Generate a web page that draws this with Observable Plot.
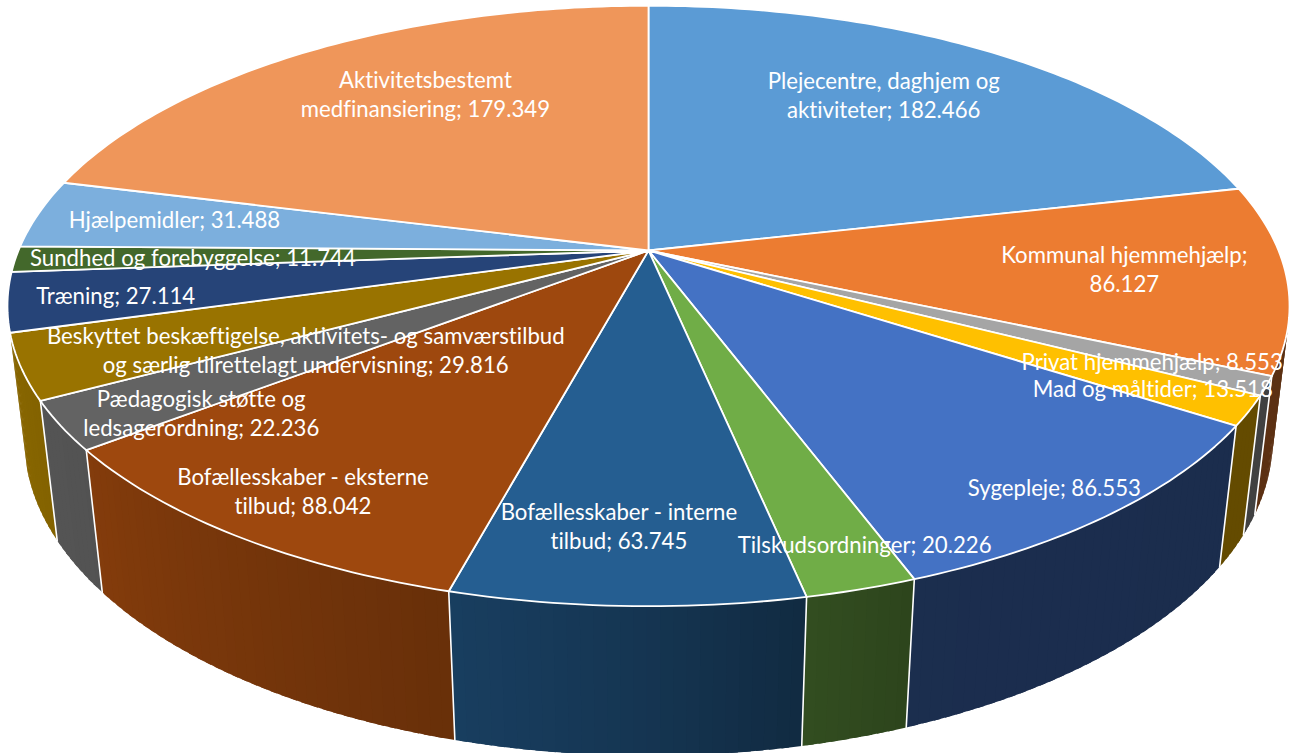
<!DOCTYPE html>
<html>
<head>
<meta charset="utf-8">
<script src="https://cdn.jsdelivr.net/npm/d3@7"></script>
<script src="https://cdn.jsdelivr.net/npm/@observablehq/plot@0.6"></script>
<style>
html,body{margin:0;padding:0;background:#fff;overflow:hidden}
svg{display:block}
svg text{font-variant-ligatures:none}
</style>
</head>
<body>
<div id="chart"></div>
<script>
const categories = ["Plejecentre, daghjem og aktiviteter","Kommunal hjemmehjælp","Privat hjemmehjælp","Mad og måltider","Sygepleje","Tilskudsordninger","Bofællesskaber - interne tilbud","Bofællesskaber - eksterne tilbud","Pædagogisk støtte og ledsagerordning","Beskyttet beskæftigelse, aktivitets- og samværstilbud og særlig tilrettelagt undervisning","Træning","Sundhed og forebyggelse","Hjælpemidler","Aktivitetsbestemt medfinansiering"];
const values = [182.466,86.127,8.553,13.518,86.553,20.226,63.745,88.042,22.236,29.816,27.114,11.744,31.488,179.349];
const labels = [
  "Plejecentre, daghjem og\naktiviteter; 182.466",
  "Kommunal hjemmehjælp;\n86.127",
  "Privat hjemmehjælp; 8.553",
  "Mad og måltider; 13.518",
  "Sygepleje; 86.553",
  "Tilskudsordninger; 20.226",
  "Bofællesskaber - interne\ntilbud; 63.745",
  "Bofællesskaber - eksterne\ntilbud; 88.042",
  "Pædagogisk støtte og\nledsagerordning; 22.236",
  "Beskyttet beskæftigelse, aktivitets- og samværstilbud\nog særlig tilrettelagt undervisning; 29.816",
  "Træning; 27.114",
  "Sundhed og forebyggelse; 11.744",
  "Hjælpemidler; 31.488",
  "Aktivitetsbestemt\nmedfinansiering; 179.349"
];
const colors = ["#5B9BD5","#EC7C31","#A5A5A5","#FFC000","#4472C4","#70AD47","#255E91","#9E480E","#636363","#997300","#264478","#43682B","#7CAFDD","#EF965A"];
// label placement, polar: fraction of the radius and turn (degrees) from the slice's middle
const labelRadius = [.72,.749,.829,.857,.906,.9036,.813,.865,.822,.607,.836,.72,.774,.711];
const labelTurn = [-3.5,-.2,.4,.8,.6,-2.5,1.2,-.4,-5.61,-10.7,-.7,-.5,.3,4.4];

// camera model of the tilted disc
const RX = 630, RY = 290, TILT = 0.1847, DEPTH_W = 0.026, DEPTH_Y = 135;
const project = (deg, r, z) => {
  const a = deg * Math.PI / 180, X = r * Math.sin(a), Y = -r * Math.cos(a);
  const w = 1 - TILT * Y + DEPTH_W * z;
  return {x: RX * X / w, y: (RY * Y + DEPTH_Y * z) / w};
};
// wall shading by angle
const shade = d3.scaleLinear().domain([60,160,168,181,195,232,250,300]).range([.38,.4,.45,.57,.66,.83,.88,.9]).clamp(true);
const darker = (c, f) => { const q = d3.rgb(c); return d3.rgb(q.r*f, q.g*f, q.b*f).formatHex(); };

const total = d3.sum(values);
const cum = Array.from(d3.cumsum(values));
const slices = values.map((v, i) => ({i, a0: (cum[i]-v)/total*360, a1: cum[i]/total*360}));

const faces = [], walls = [], seams = [];
for (const s of slices) {
  const n = Math.max(2, Math.ceil(s.a1 - s.a0));
  const at = k => s.a0 + (s.a1 - s.a0) * k / n;
  faces.push({k:s.i, c:colors[s.i], ...project(0,0,0)});
  for (let k = 0; k <= n; k++) faces.push({k:s.i, c:colors[s.i], ...project(at(k),1,0)});
  faces.push({k:s.i, c:colors[s.i], ...project(0,0,0)});
  // only the walls that face the viewer are drawn
  if (s.a1 < 100 || s.a1 > 255) continue;
  for (let k = 0; k < n; k++) {
    const id = s.i + "-" + k, c = darker(colors[s.i], shade((at(k)+at(k+1))/2));
    const far = Math.min(s.a1, at(k+1.6));
    for (const [d,z] of [[at(k),0],[far,0],[far,1],[at(k),1],[at(k),0]])
      walls.push({k:id, c, ...project(d,1,z)});
  }
  if (s.a1 < 250) for (const z of [0,1]) seams.push({k:s.i, ...project(s.a1,1,z)});
}
const placed = slices.map(s => ({
  t: labels[s.i],
  ...project((s.a0+s.a1)/2 + labelTurn[s.i], labelRadius[s.i], 0)
}));

const chart = Plot.plot({
  width: 1292, height: 753,
  marginTop: 0, marginRight: 0, marginBottom: 0, marginLeft: 0,
  x: {domain: [-648, 644], range: [0, 1292], axis: null},
  y: {domain: [-250, 503], range: [0, 753], axis: null},
  color: {type: "identity"},
  style: {background: "#fff"},
  marks: [
    Plot.line(walls, {x:"x", y:"y", z:"k", fill:"c", stroke:"none"}),
    Plot.line(seams, {x:"x", y:"y", z:"k", stroke:"#fff", strokeWidth:1.6}),
    Plot.line(faces, {x:"x", y:"y", z:"k", fill:"c", stroke:"#fff", strokeWidth:1.8}),
    Plot.text(placed, {x:"x", y:"y", text:"t", fill:"#fff", fontFamily:"Lato", fontSize:22.2, lineHeight:1.31, textAnchor:"middle", dy:-2})
  ]
});
document.getElementById("chart").appendChild(chart);
</script>
</body>
</html>
